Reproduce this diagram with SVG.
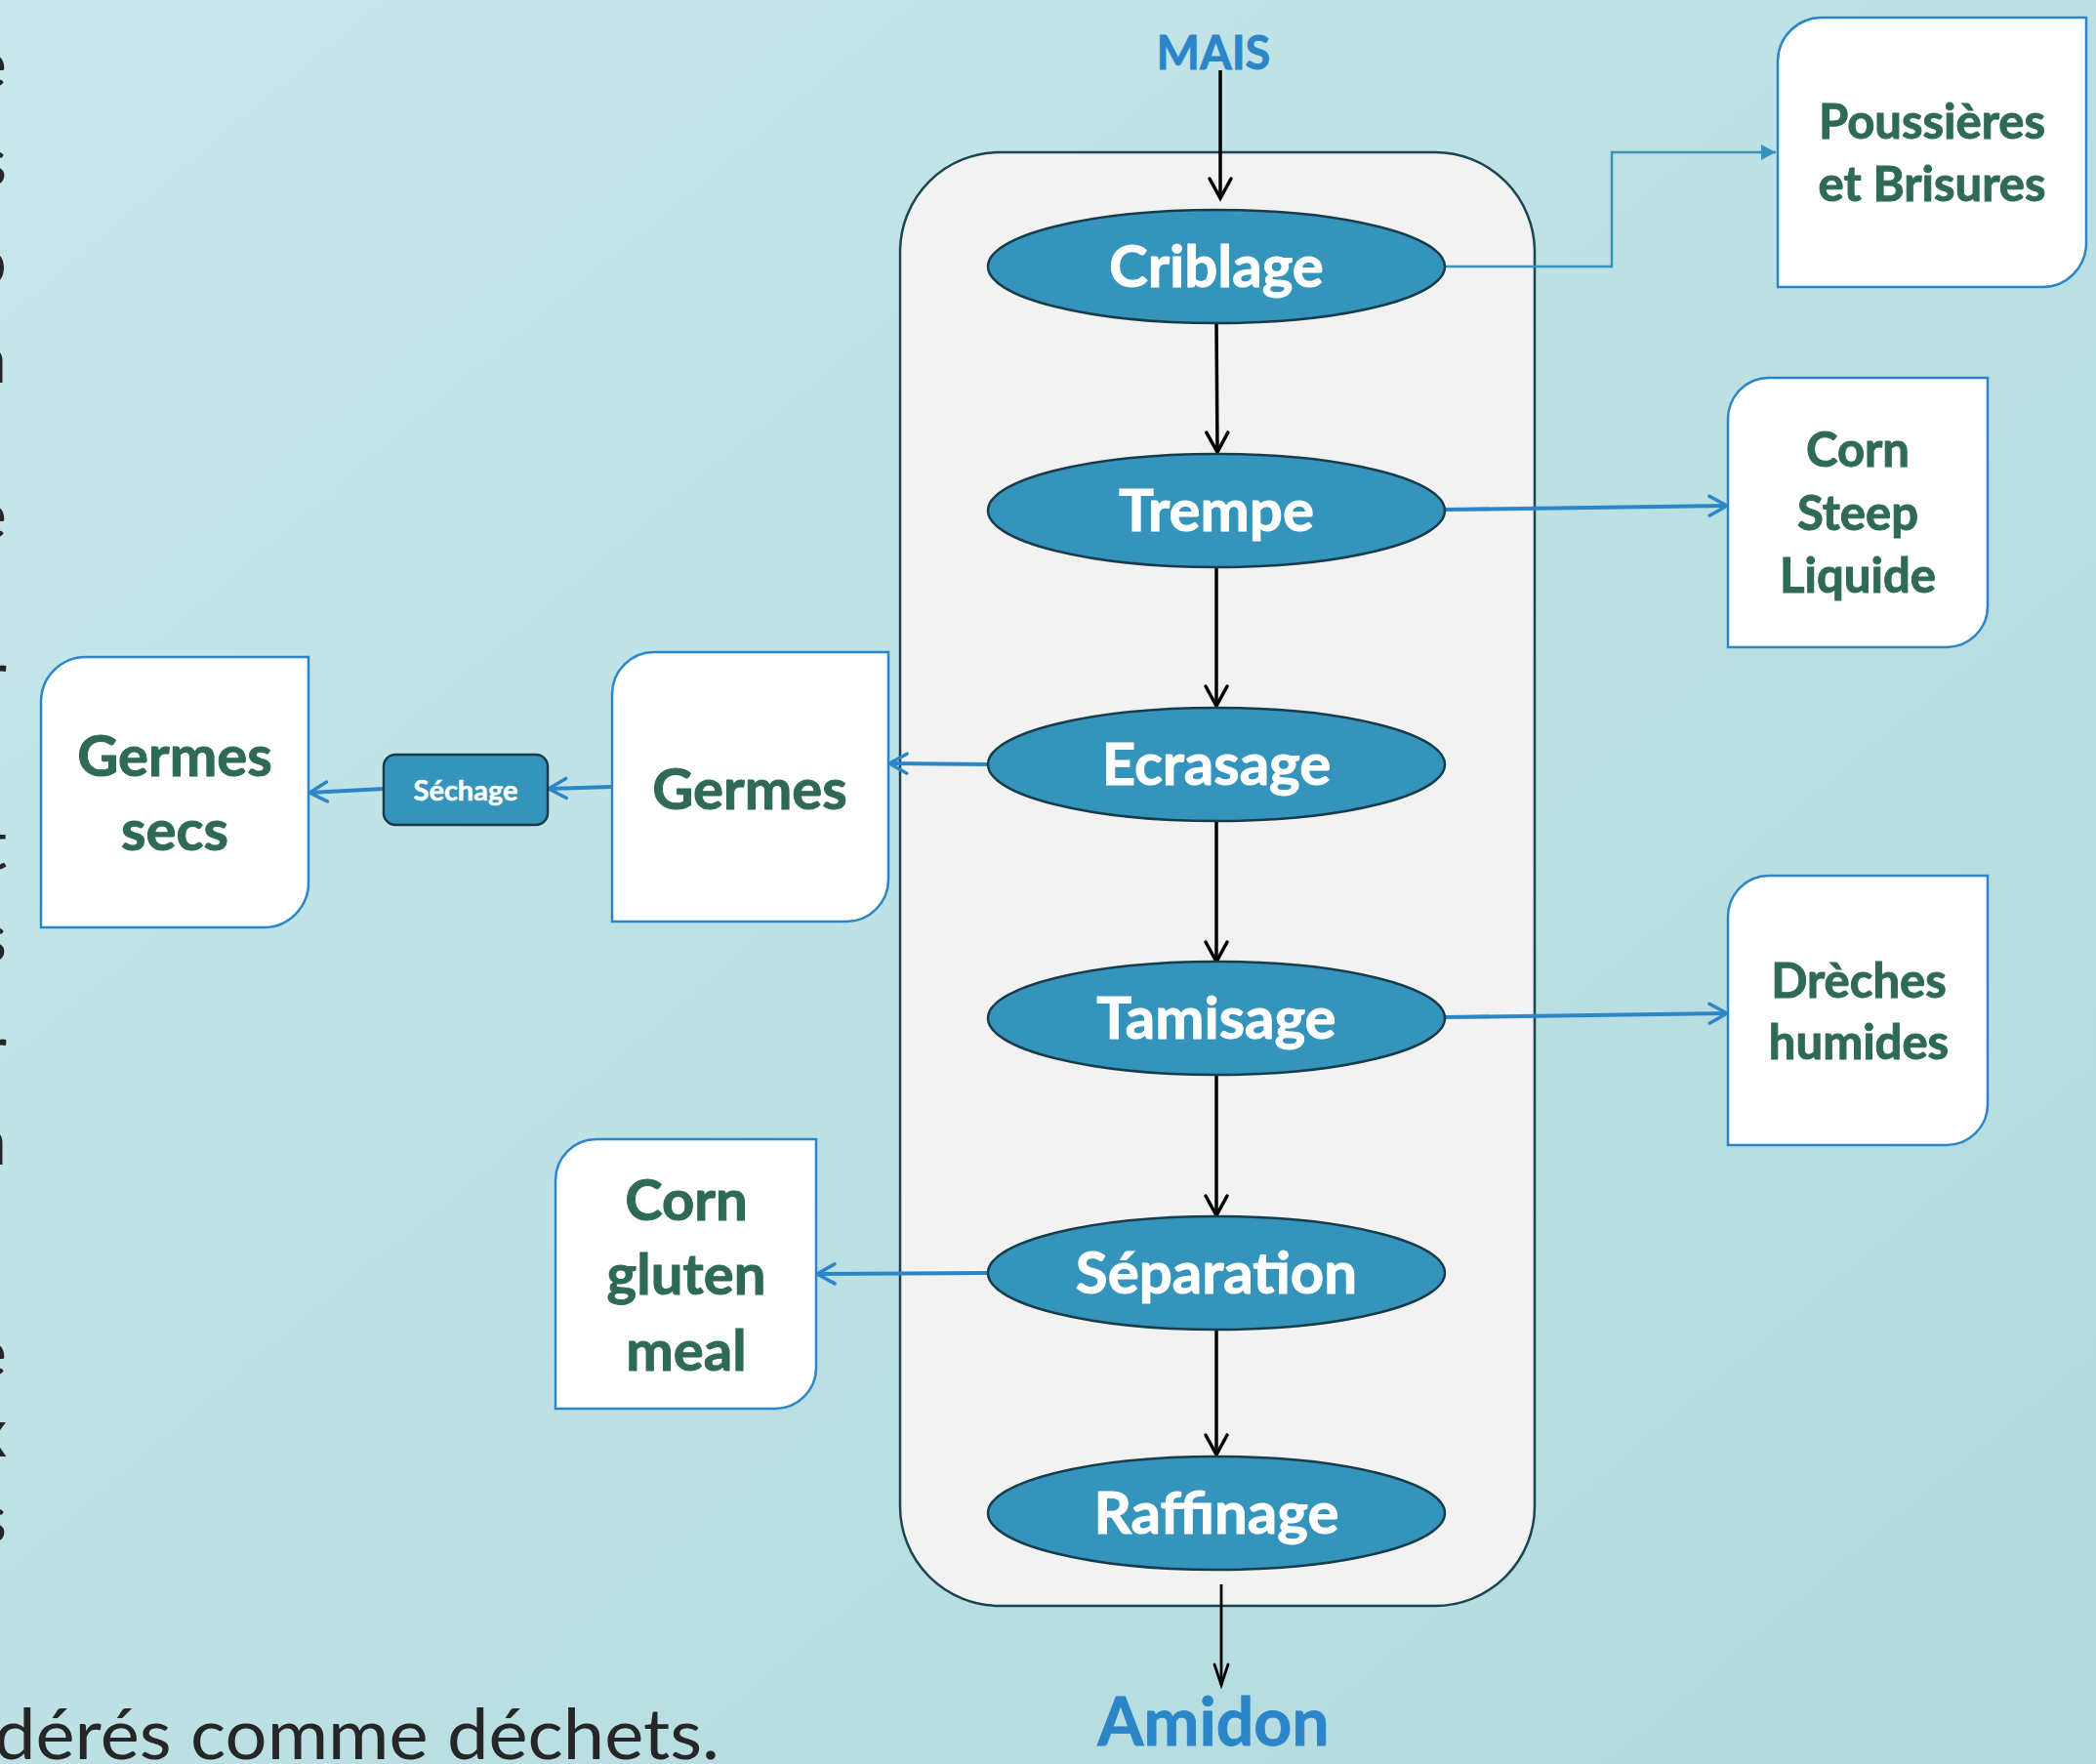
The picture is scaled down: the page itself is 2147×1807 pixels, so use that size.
<svg xmlns="http://www.w3.org/2000/svg" width="2147" height="1807" viewBox="0 0 2147 1807">
  <defs>
    <linearGradient id="bg" x1="0" y1="0" x2="1" y2="1">
      <stop offset="0" stop-color="#c8e7eb"/>
      <stop offset="1" stop-color="#b1dadd"/>
    </linearGradient>
    <marker id="vBlack" markerUnits="userSpaceOnUse" viewBox="-25 -15 30 30" markerWidth="30" markerHeight="30" refX="0" refY="0" orient="auto" overflow="visible">
      <path d="M-20,-11 L0,0 L-20,11" fill="none" stroke="#000" stroke-width="3.5" stroke-linecap="round" stroke-linejoin="miter"/>
    </marker>
    <marker id="vBlackThin" markerUnits="userSpaceOnUse" viewBox="-25 -15 30 30" markerWidth="30" markerHeight="30" refX="0" refY="0" orient="auto" overflow="visible">
      <path d="M-21,-7 L0,0 L-21,7" fill="none" stroke="#000" stroke-width="2.8" stroke-linecap="round"/>
    </marker>
    <marker id="vBlue" markerUnits="userSpaceOnUse" viewBox="-25 -15 30 30" markerWidth="30" markerHeight="30" refX="0" refY="0" orient="auto" overflow="visible">
      <path d="M-18,-10 L0,0 L-18,10" fill="none" stroke="#2a86c8" stroke-width="3.5" stroke-linecap="round"/>
    </marker>
    <marker id="triTeal" markerUnits="userSpaceOnUse" viewBox="-20 -10 25 20" markerWidth="25" markerHeight="20" refX="0" refY="0" orient="auto" overflow="visible">
      <path d="M-15,-8 L0,0 L-15,8 Z" fill="#3594bb"/>
    </marker>
  </defs>
  <style>
    .ell { fill: #3594bb; stroke: #173c4b; stroke-width: 2.5; }
    .etxt { font-family: Lato, "Open Sans", sans-serif; font-weight: bold; font-size: 60px; fill: #ffffff; stroke: #ffffff; stroke-width: 1; text-anchor: middle; }
    .out { fill: #ffffff; stroke: #2a86c8; stroke-width: 2.5; }
    .otxt { font-family: Lato, "Open Sans", sans-serif; font-weight: bold; fill: #2f6a56; stroke: #2f6a56; stroke-width: 1; text-anchor: middle; }
    .s48 { font-size: 49px; }
    .s58 { font-size: 58px; }
    .blk { stroke: #000; stroke-width: 3.5; fill: none; }
    .blu { stroke: #2a86c8; stroke-width: 4; fill: none; }
    .frag { font-family: Lato, "Open Sans", sans-serif; font-size: 70px; fill: #262626; text-anchor: end; }
    .lbl { font-family: Lato, "Open Sans", sans-serif; font-weight: bold; fill: #2a86c8; stroke: #2a86c8; stroke-width: 0.8; text-anchor: middle; }
  </style>

  <rect x="0" y="0" width="2147" height="1807" fill="url(#bg)"/>

  <!-- clipped slide text at left edge -->
  <g id="slide-text">
    <text class="frag" x="7" y="90">e</text>
    <text class="frag" x="7" y="190">s</text>
    <text class="frag" x="7" y="292">o</text>
    <text class="frag" x="7" y="392">n</text>
    <text class="frag" x="7" y="552">e</text>
    <text class="frag" x="7" y="717">r</text>
    <text class="frag" x="7" y="890">t</text>
    <text class="frag" x="7" y="985">s</text>
    <text class="frag" x="7" y="1100">r</text>
    <text class="frag" x="7" y="1193">n</text>
    <text class="frag" x="7" y="1410">e</text>
    <text class="frag" x="7" y="1492">x</text>
    <text class="frag" x="7" y="1580">s</text>
    <text x="-6" y="1802" font-family="Lato, 'Open Sans', sans-serif" font-size="72" fill="#262626" textLength="743" lengthAdjust="spacingAndGlyphs">dérés comme déchets.</text>
  </g>

  <!-- process container -->
  <g id="process-container">
    <rect x="922" y="156" width="650" height="1489" rx="102" ry="102" fill="#f2f2f2" stroke="#1c4553" stroke-width="2.5"/>
  </g>

  <g id="connectors">
    <line class="blk" x1="1250" y1="72" x2="1250" y2="203" marker-end="url(#vBlack)"/>
    <line class="blk" x1="1246" y1="331" x2="1247" y2="463" marker-end="url(#vBlack)"/>
    <line class="blk" x1="1246" y1="581" x2="1246" y2="723" marker-end="url(#vBlack)"/>
    <line class="blk" x1="1246" y1="841" x2="1246" y2="985" marker-end="url(#vBlack)"/>
    <line class="blk" x1="1246" y1="1101" x2="1246" y2="1245" marker-end="url(#vBlack)"/>
    <line class="blk" x1="1246" y1="1362" x2="1246" y2="1490" marker-end="url(#vBlack)"/>
    <line x1="1251" y1="1623" x2="1251" y2="1726" stroke="#000" stroke-width="2.8" marker-end="url(#vBlackThin)"/>
    <polyline points="1480,273 1651,273 1651,156 1819,156" fill="none" stroke="#3594bb" stroke-width="2.5" marker-end="url(#triTeal)"/>
    <line class="blu" x1="1481" y1="522" x2="1769" y2="518" marker-end="url(#vBlue)"/>
    <line class="blu" x1="1481" y1="1042" x2="1769" y2="1038" marker-end="url(#vBlue)"/>
    <line class="blu" x1="1012" y1="783" x2="911" y2="782" marker-end="url(#vBlue)"/>
    <line class="blu" x1="627" y1="806" x2="562" y2="808" marker-end="url(#vBlue)"/>
    <line class="blu" x1="393" y1="808" x2="317" y2="812" marker-end="url(#vBlue)"/>
    <line class="blu" x1="1013" y1="1304" x2="837" y2="1305" marker-end="url(#vBlue)"/>
  </g>

  <g id="mais"><text class="lbl" x="1243" y="71" font-size="47">MAIS</text></g>
  <g id="amidon"><text class="lbl" x="1243" y="1788" font-size="68">Amidon</text></g>

  <g id="criblage"><ellipse class="ell" cx="1246" cy="273" rx="234" ry="58"/><text class="etxt" x="1246" y="294">Criblage</text></g>
  <g id="trempe"><ellipse class="ell" cx="1246" cy="523" rx="234" ry="58"/><text class="etxt" x="1246" y="544">Trempe</text></g>
  <g id="ecrasage"><ellipse class="ell" cx="1246" cy="783" rx="234" ry="58"/><text class="etxt" x="1246" y="804">Ecrasage</text></g>
  <g id="tamisage"><ellipse class="ell" cx="1246" cy="1043" rx="234" ry="58"/><text class="etxt" x="1246" y="1064">Tamisage</text></g>
  <g id="separation"><ellipse class="ell" cx="1246" cy="1304" rx="234" ry="58"/><text class="etxt" x="1246" y="1325">Séparation</text></g>
  <g id="raffinage"><ellipse class="ell" cx="1246" cy="1550" rx="234" ry="58"/><text class="etxt" x="1246" y="1571">Raffinage</text></g>

  <g id="poussieres">
    <path class="out" d="M1866,18 H2137 V249 A45,45 0 0 1 2092,294 H1821 V63 A45,45 0 0 1 1866,18 Z"/>
    <text class="otxt s48" x="1979" y="142">Poussières</text>
    <text class="otxt s48" x="1979" y="206">et Brisures</text>
  </g>
  <g id="corn-steep">
    <path class="out" d="M1812,387 H2036 V621 A42,42 0 0 1 1994,663 H1770 V429 A42,42 0 0 1 1812,387 Z"/>
    <text class="otxt s48" x="1903" y="478">Corn</text>
    <text class="otxt s48" x="1903" y="543">Steep</text>
    <text class="otxt s48" x="1903" y="607">Liquide</text>
  </g>
  <g id="dreches">
    <path class="out" d="M1812,897 H2036 V1131 A42,42 0 0 1 1994,1173 H1770 V939 A42,42 0 0 1 1812,897 Z"/>
    <text class="otxt s48" x="1904" y="1022">Drèches</text>
    <text class="otxt s48" x="1904" y="1085">humides</text>
  </g>
  <g id="germes">
    <path class="out" d="M670,668 H910 V901 A43,43 0 0 1 867,944 H627 V711 A43,43 0 0 1 670,668 Z"/>
    <text class="otxt s58" x="768" y="829">Germes</text>
  </g>
  <g id="sechage">
    <rect x="393" y="773" width="168" height="72" rx="12" ry="12" class="ell"/>
    <text x="477" y="820" font-family="Lato, 'Open Sans', sans-serif" font-weight="bold" font-size="29" fill="#ffffff" stroke="#ffffff" stroke-width="0.5" text-anchor="middle">Séchage</text>
  </g>
  <g id="germes-secs">
    <path class="out" d="M88,673 H316 V904 A46,46 0 0 1 270,950 H42 V719 A46,46 0 0 1 88,673 Z"/>
    <text class="otxt s58" x="179" y="795">Germes</text>
    <text class="otxt s58" x="179" y="871">secs</text>
  </g>
  <g id="corn-gluten">
    <path class="out" d="M611,1167 H836 V1401 A42,42 0 0 1 794,1443 H569 V1209 A42,42 0 0 1 611,1167 Z"/>
    <text class="otxt s58" x="703" y="1250">Corn</text>
    <text class="otxt s58" x="703" y="1326">gluten</text>
    <text class="otxt s58" x="703" y="1404">meal</text>
  </g>
</svg>
